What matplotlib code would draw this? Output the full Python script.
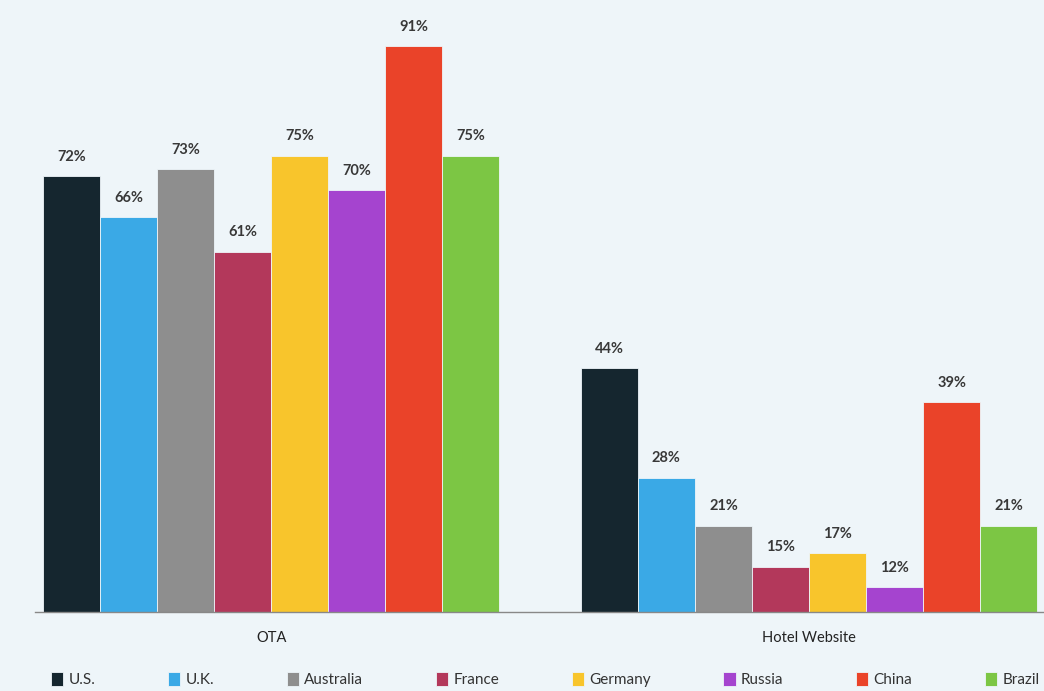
import matplotlib
matplotlib.use("Agg")
import matplotlib.pyplot as plt
import numpy as np

groups = ["OTA", "Hotel Website"]
countries = ["U.S.", "U.K.", "Australia", "France", "Germany", "Russia", "China", "Brazil"]
ota = [72, 66, 73, 61, 75, 70, 91, 75]
hotel = [44, 28, 21, 15, 17, 12, 39, 21]
colors = ["#15262f", "#3aa9e6", "#8e8e8e", "#b3385b", "#f8c52c", "#a544cf", "#ea4329", "#7cc644"]

plt.rcParams['font.family'] = ['Lato', 'DejaVu Sans']
bg = "#eef5f9"

fig = plt.figure(figsize=(10.44, 6.91), dpi=100, facecolor=bg)
ax = fig.add_axes([35/1044, 1 - 612/691, 1 - 35/1044, 612/691])
ax.set_facecolor(bg)

group_x = np.array([0.0, 9.43])
width = 1.0
values = np.array([ota, hotel])
for i, (c, col) in enumerate(zip(countries, colors)):
    xs = group_x + (i - 3.5) * width
    bars = ax.bar(xs, values[:, i], width=width, color=col, label=c, edgecolor=bg, linewidth=0.6)
    for b, v in zip(bars, values[:, i]):
        ax.annotate(f"{v}%", (b.get_x() + b.get_width() / 2, v), xytext=(0, 9),
                    textcoords="offset points", ha="center", va="bottom",
                    fontsize=10.5, color="#383838", fontweight="bold")

ax.set_xlim(-4.14, 13.55)
ax.set_ylim(8.4, 8.4 + 612 / 6.85)
ax.set_xticks(group_x)
ax.set_xticklabels(groups, fontsize=10.5, color="#222222")
ax.tick_params(axis="x", length=0, pad=14)
ax.set_yticks([])
for s in ["top", "right", "left"]:
    ax.spines[s].set_visible(False)
ax.spines["bottom"].set_color("#888888")
ax.spines["bottom"].set_linewidth(1.0)

fig.legend(loc="lower left", bbox_to_anchor=(47/1044, 0.0), ncol=8, frameon=False,
           fontsize=11, handlelength=0.8, handleheight=1.0, handletextpad=0.35,
           columnspacing=4.75, borderaxespad=0.0, borderpad=0.25, labelcolor="#333333")

fig.savefig("out.png", dpi=100, facecolor=bg)
